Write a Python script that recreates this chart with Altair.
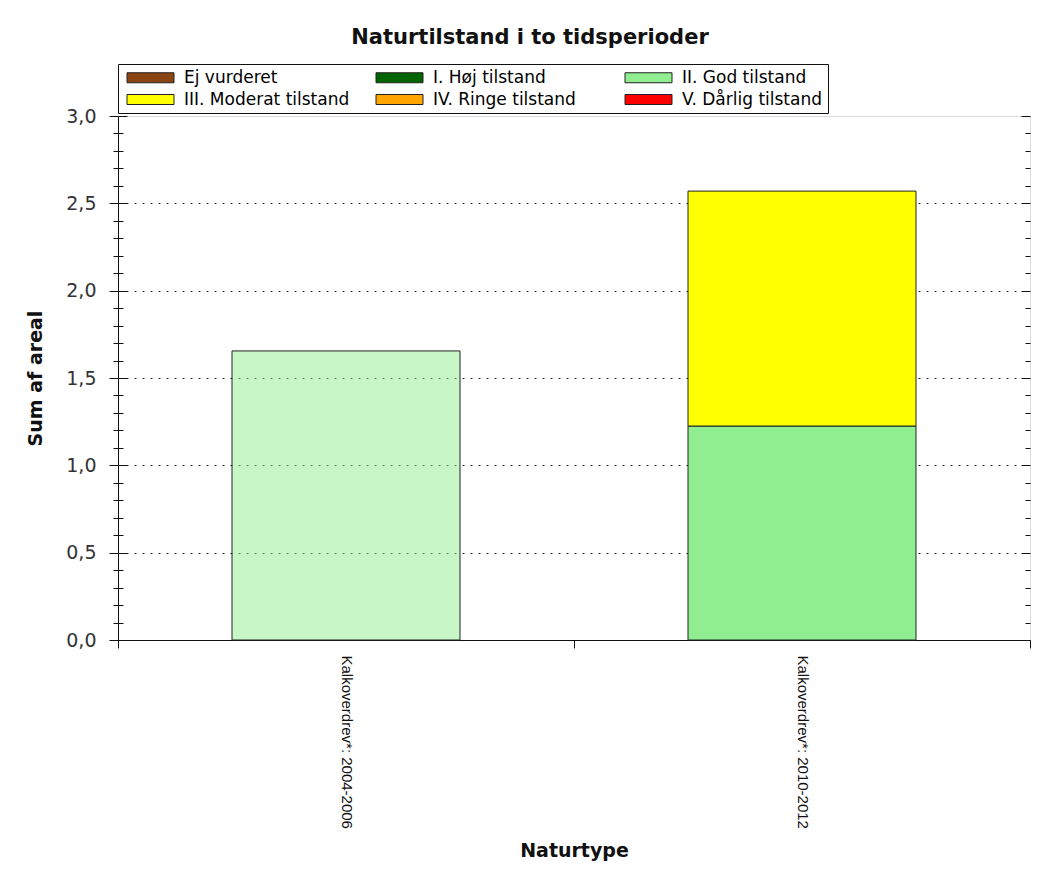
import altair as alt
import pandas as pd

perioder = ["Kalkoverdrev*: 2004-2006", "Kalkoverdrev*: 2010-2012"]
tilstande = ["Ej vurderet", "I. Høj tilstand", "II. God tilstand",
             "III. Moderat tilstand", "IV. Ringe tilstand", "V. Dårlig tilstand"]
farver = ["#8B4513", "#006400", "#90EE90", "#FFFF00", "#FFA500", "#FF0000"]
god_tilstand = [1.655, 1.225]
moderat_tilstand = [0.0, 1.345]

rows = []
for i, p in enumerate(perioder):
    for t, vals in (("II. God tilstand", god_tilstand), ("III. Moderat tilstand", moderat_tilstand)):
        if vals[i] > 0:
            rows.append({"periode": p, "tilstand": t, "areal": vals[i], "rang": tilstande.index(t)})
df = pd.DataFrame(rows)

major = [0, 0.5, 1.0, 1.5, 2.0, 2.5, 3.0]
grid_vals = [0.5, 1.0, 1.5, 2.0, 2.5]
minor = [i / 10 for i in range(31) if i % 5 != 0]
yscale = alt.Scale(domain=[0, 3], nice=False, zero=True)

FONT = "DejaVu Sans"

bars = alt.Chart(df).mark_bar(
    width=alt.RelativeBandSize(0.5), stroke="#222", strokeWidth=1
).encode(
    x=alt.X("periode:N", sort=perioder,
            scale=alt.Scale(paddingInner=0, paddingOuter=0),
            axis=alt.Axis(title="Naturtype", labelAngle=90, tickBand="extent",
                          tickSize=8, tickColor="#111", domainColor="#111",
                          labelFont="Liberation Sans", labelFontSize=15, labelColor="#111",
                          labelPadding=7, labelLimit=400,
                          titleFont=FONT, titleFontSize=19, titleFontWeight="bold",
                          titleColor="#111", titleBaseline="alphabetic", titleY=216)),
    y=alt.Y("areal:Q", stack="zero", scale=yscale,
            axis=alt.Axis(title="Sum af areal", orient="left", values=major,
                          labelExpr="replace(format(datum.value, '.1f'), '.', ',')",
                          tickSize=9, tickColor="#111", domainColor="#111",
                          labelFont=FONT, labelFontSize=19, labelColor="#333",
                          labelPadding=13,
                          grid=False,
                          titleFont=FONT, titleFontSize=19, titleFontWeight="bold",
                          titleColor="#111", titleX=-83, titleY=262,
                          titleBaseline="middle")),
    color=alt.Color("tilstand:N",
                    scale=alt.Scale(domain=tilstande, range=farver),
                    legend=alt.Legend(title=None, orient="none", legendX=0, legendY=-52,
                                      columns=3, gridAlign="all", direction="horizontal",
                                      symbolType="M-4.7,-1H4.7V1H-4.7Z",
                                      symbolSize=100, symbolOffset=19,
                                      symbolStrokeColor="#222", symbolStrokeWidth=1,
                                      symbolOpacity=1,
                                      labelFont=FONT, labelFontSize=17, labelColor="#000",
                                      labelOffset=25, labelLimit=400,
                                      columnPadding=22, rowPadding=4,
                                      strokeColor="#111", fillColor="white", padding=5)),
    order=alt.Order("rang:Q", sort="ascending"),
    fillOpacity=alt.condition(alt.datum.periode == perioder[0], alt.value(0.5), alt.value(1.0)),
)

grid_layer = alt.Chart(df).mark_rule(opacity=0).encode(
    y=alt.Y("areal:Q", scale=yscale,
            axis=alt.Axis(title=None, orient="left", values=grid_vals, labels=False,
                          ticks=False, domain=False, grid=True, gridDash=[2, 6],
                          gridColor="#222", gridWidth=1))
)

def tick_layer(orient, values, offset, size):
    return alt.Chart(df).mark_rule(opacity=0).encode(
        y=alt.Y("areal:Q", scale=yscale,
                axis=alt.Axis(title=None, orient=orient, values=values, offset=offset,
                              tickSize=size, tickColor="#111", labels=False,
                              domain=False, grid=False))
    )

chart = alt.layer(
    bars,
    grid_layer,
    tick_layer("left", major, -9, 9),
    tick_layer("left", minor, -5, 10),
    tick_layer("right", major, -9, 9),
    tick_layer("right", minor, -5, 5),
).resolve_axis(y="independent").properties(
    width=912, height=524,
    autosize=alt.AutoSizeParams(type="none"),
    padding={"left": 110, "top": 108, "right": 8, "bottom": 223},
    title=alt.TitleParams("Naturtilstand i to tidsperioder", font=FONT, fontSize=21,
                          fontWeight="bold", color="#111", anchor="middle",
                          frame="group", offset=16, dx=-44),
).configure_view(stroke="#444", strokeWidth=1).configure(background="white")

chart.save("out.html", embed_options={"renderer": "svg", "actions": False})
